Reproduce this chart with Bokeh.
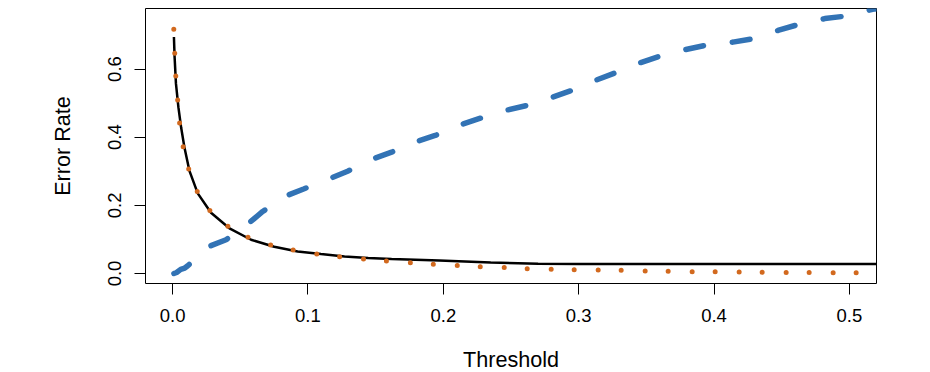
from bokeh.plotting import figure
from bokeh.models import FixedTicker, Range1d
from bokeh.embed import file_html
from bokeh.resources import INLINE

# ---- data ----
overall_t = [0.001, 0.0015, 0.0025, 0.0043, 0.0063, 0.0087, 0.0124, 0.0186, 0.0284, 0.0424,
             0.058, 0.0751, 0.0924, 0.1096, 0.127, 0.1445, 0.1618, 0.1795, 0.197, 0.235,
             0.27, 0.3, 0.35, 0.4, 0.45, 0.5, 0.53]
overall_err = [0.694, 0.635, 0.557, 0.488, 0.429, 0.371, 0.302, 0.235, 0.178, 0.1315,
               0.099, 0.0785, 0.0647, 0.057, 0.05, 0.0453, 0.0423, 0.0403, 0.0382, 0.032,
               0.0285, 0.0277, 0.0276, 0.0275, 0.0275, 0.0276, 0.0276]

default_t = [0.001, 0.003, 0.006, 0.009, 0.011, 0.026, 0.0395, 0.0555, 0.0666, 0.0843,
             0.0968, 0.1165, 0.1293, 0.1482, 0.1618, 0.18, 0.194, 0.213, 0.2277, 0.246,
             0.2616, 0.2798, 0.2948, 0.3125, 0.3273, 0.3458, 0.36, 0.379, 0.3942, 0.4139,
             0.4286, 0.4478, 0.4626, 0.4818, 0.4965, 0.517, 0.53]
default_err = [0.0, 0.003, 0.012, 0.016, 0.022, 0.078, 0.099, 0.145, 0.182, 0.2285,
               0.248, 0.279, 0.300, 0.3365, 0.356, 0.387, 0.405, 0.4365, 0.456, 0.4785,
               0.493, 0.516, 0.537, 0.567, 0.589, 0.619, 0.638, 0.657, 0.670, 0.679,
               0.689, 0.714, 0.731, 0.748, 0.755, 0.775, 0.782]

nondefault_t = [0.0009, 0.0016, 0.0024, 0.0038, 0.0053, 0.008, 0.0124, 0.0188, 0.0287, 0.0424,
                0.0582, 0.0749, 0.0921, 0.1096, 0.127, 0.1445, 0.1617, 0.1795, 0.197, 0.2146,
                0.2321, 0.2498, 0.2675, 0.2847, 0.3024, 0.32, 0.3376, 0.3551, 0.3728, 0.3903,
                0.4077, 0.4255, 0.443, 0.4607, 0.478, 0.4958, 0.5133, 0.53]
nondefault_err = [0.717, 0.647, 0.576, 0.507, 0.437, 0.368, 0.299, 0.235, 0.178, 0.1335,
                  0.101, 0.0806, 0.0668, 0.055, 0.048, 0.041, 0.035, 0.0306, 0.0256, 0.0226,
                  0.0188, 0.0168, 0.0128, 0.0118, 0.0109, 0.010, 0.0088, 0.007, 0.0059, 0.005,
                  0.005, 0.004, 0.003, 0.003, 0.003, 0.002, 0.002, 0.002]

x_ticks = [0.0, 0.1, 0.2, 0.3, 0.4, 0.5]
x_tick_labels = ["0.0", "0.1", "0.2", "0.3", "0.4", "0.5"]
y_ticks = [0.0, 0.2, 0.4, 0.6]
y_tick_labels = ["0.0", "0.2", "0.4", "0.6"]

FONT = "Liberation Sans"

p = figure(width=930, height=372, output_backend="svg", toolbar_location=None,
           x_range=Range1d(-0.02, 0.52), y_range=Range1d(-0.0294, 0.7776),
           frame_width=731, frame_height=275,
           min_border_left=145, min_border_right=54, min_border_top=8, min_border_bottom=89,
           x_axis_label="Threshold", y_axis_label="Error Rate")

p.background_fill_color = "white"
p.border_fill_color = "white"
p.outline_line_color = "black"
p.outline_line_width = 1
p.grid.visible = False

p.line(overall_t, overall_err, line_color="black", line_width=2.5)
p.line(default_t, default_err, line_color="#3273b5", line_width=5.5,
       line_dash="18 29", line_cap="round")
p.line(nondefault_t, nondefault_err, line_color="#d2691e", line_width=5,
       line_dash="0 24 0 23", line_cap="round")

p.xaxis.ticker = FixedTicker(ticks=x_ticks)
p.xaxis.major_label_overrides = {t: l for t, l in zip(x_ticks, x_tick_labels)}
p.yaxis.ticker = FixedTicker(ticks=y_ticks)
p.yaxis.major_label_overrides = {t: l for t, l in zip(y_ticks, y_tick_labels)}
p.yaxis.major_label_orientation = "vertical"

for ax in (p.xaxis, p.yaxis):
    ax.axis_line_color = None
    ax.major_tick_out = 11
    ax.major_tick_in = 0
    ax.minor_tick_line_color = None
    ax.major_tick_line_color = "black"
    ax.major_label_text_font = FONT
    ax.major_label_text_font_size = "18.5px"
    ax.major_label_text_color = "black"
    ax.axis_label_text_font = FONT
    ax.axis_label_text_font_size = "21.6px"
    ax.axis_label_text_font_style = "normal"
    ax.axis_label_text_color = "black"

p.xaxis.major_label_standoff = 14
p.xaxis.axis_label_standoff = 22
p.yaxis.major_label_standoff = 13
p.yaxis.axis_label_standoff = 31

open("out.html", "w").write(file_html(p, INLINE))
